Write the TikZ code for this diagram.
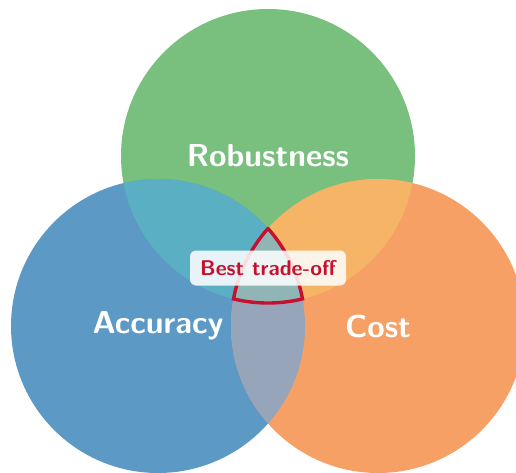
\documentclass[tikz,border=0pt]{standalone}
\usetikzlibrary{calc}
\definecolor{cgreen}{HTML}{79C07F}
\definecolor{cblue}{HTML}{5C9AC5}
\definecolor{corange}{HTML}{F7A066}
\definecolor{cgb}{HTML}{5AAFC2}
\definecolor{cgo}{HTML}{F6B467}
\definecolor{cbo}{HTML}{96A5B9}
\definecolor{cgbo}{HTML}{8FB6B5}
\definecolor{crim}{HTML}{C8102E}
\begin{document}
\begin{tikzpicture}[x=1pt,y=-1pt,
  setlabel/.style={text=white,font=\sffamily\bfseries\fontsize{31.7}{34}\selectfont,inner sep=0pt},
  besttag/.style={fill=white,fill opacity=0.86,text opacity=1,text=crim,rounded corners=6pt,
     minimum width=156pt,minimum height=35pt,inner sep=0pt,font=\sffamily\bfseries\fontsize{21.3}{23}\selectfont},
  outline/.style={draw=crim,line width=3.4pt,line join=miter}]
\useasboundingbox (0,0) rectangle (516,473);
\clip (0,0) rectangle (516,473);
\coordinate (G) at (268,156);
\coordinate (B) at (158,326);
\coordinate (O) at (378,326);
\def\R{147}
% base circles
\fill[cgreen] (G) circle[radius=\R];
\fill[cblue] (B) circle[radius=\R];
\fill[corange] (O) circle[radius=\R];
% pairwise overlaps
\begin{scope}
  \clip (G) circle[radius=\R];
  \fill[cgb] (B) circle[radius=\R];
  \fill[cgo] (O) circle[radius=\R];
\end{scope}
\begin{scope}
  \clip (B) circle[radius=\R];
  \fill[cbo] (O) circle[radius=\R];
\end{scope}
\begin{scope}
  \clip (G) circle[radius=\R];
  \clip (B) circle[radius=\R];
  \fill[cgbo] (O) circle[radius=\R];
\end{scope}
% labels
\node[setlabel] (rob) at (G) {Robustness};
\node[setlabel] (acc) at (B) {Accuracy};
\node[setlabel] (cost) at (O) {Cost};
% outline of triple intersection
\coordinate (T) at (268,228.5);
\draw[outline] (T) arc[start angle=221.55,end angle=190.62,radius=\R]
  arc[start angle=103.57,end angle=76.43,radius=\R]
  arc[start angle=-10.62,end angle=-41.55,radius=\R] -- cycle;
\node[besttag] (best) at (268,268) {Best trade-off};
\end{tikzpicture}
\end{document}
